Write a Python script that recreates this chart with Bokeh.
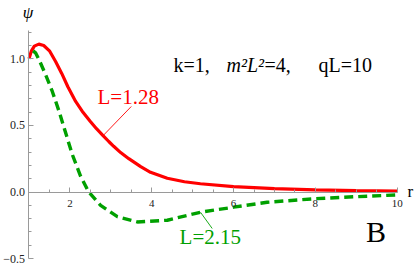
import numpy as np
from bokeh.plotting import figure
from bokeh.models import Range1d, FixedTicker, Label
from bokeh.embed import file_html
from bokeh.resources import INLINE

# curve L=1.28 (solid red)
r_red = [1.0, 1.06, 1.13, 1.24, 1.36, 1.5, 1.65, 1.8, 1.95, 2.14, 2.3, 2.5, 2.65, 2.81,
         2.95, 3.07, 3.24, 3.44, 3.73, 3.97, 4.38, 4.8, 5.19, 6.0, 7.0, 8.0, 9.0, 10.0]
psi_red = [1.0, 1.06, 1.095, 1.11, 1.10, 1.06, 0.98, 0.89, 0.79, 0.68, 0.607, 0.53, 0.475, 0.424,
           0.379, 0.343, 0.296, 0.25, 0.19, 0.148, 0.103, 0.077, 0.062, 0.04, 0.025, 0.016, 0.01, 0.006]
# curve L=2.15 (dashed green)
r_green = [1.1, 1.16, 1.25, 1.4, 1.57, 1.73, 1.89, 2.06, 2.26, 2.46, 2.75, 3.16, 3.65,
           4.38, 5.19, 6.0, 6.82, 7.96, 9.0, 10.0]
psi_green = [1.06, 1.045, 0.99, 0.885, 0.755, 0.61, 0.45, 0.28, 0.12, 0.0, -0.1, -0.185, -0.225,
             -0.212, -0.152, -0.114, -0.077, -0.051, -0.035, -0.022]

x_major = [2, 4, 6, 8, 10]
x_minor = [1.5, 2.5, 3, 3.5, 4.5, 5, 5.5, 6.5, 7, 7.5, 8.5, 9, 9.5]
y_major = [-0.5, 0.0, 0.5, 1.0]
y_minor = [-0.4, -0.3, -0.2, -0.1, 0.1, 0.2, 0.3, 0.4, 0.6, 0.7, 0.8, 0.9, 1.1, 1.2]
y_labels = {-0.5: "\u22120.5", 0.0: "0.0", 0.5: "0.5", 1.0: "1.0"}

# callout labels: text, anchor on curve, label end of leader
red_label = "L=1.28"
red_leader_x = [2.814, 3.50]
red_leader_y = [0.424, 0.642]
green_label = "L=2.15"
green_leader_x = [5.192, 5.478]
green_leader_y = [-0.152, -0.274]

RED = "#ff0000"
GREEN = "#00a000"
AX = "#9a9a9a"
SERIF = "Liberation Serif"

p = figure(width=415, height=266, output_backend="svg", toolbar_location=None,
           x_range=Range1d(0.3034, 10.4475), y_range=Range1d(-0.5593, 1.4377))
p.min_border_left = 0
p.min_border_right = 0
p.min_border_top = 0
p.min_border_bottom = 0
p.outline_line_color = None
p.grid.visible = False
p.background_fill_color = "white"

p.line(r_red, psi_red, line_color=RED, line_width=3.2)
p.line(r_green, psi_green, line_color=GREEN, line_width=3.4, line_dash="9 5")
p.line(red_leader_x, red_leader_y, line_color=RED, line_width=0.9)
p.line(green_leader_x, green_leader_y, line_color=GREEN, line_width=0.9)

xa = p.xaxis[0]
xa.fixed_location = 0
xa.bounds = (1, 10)
xa.ticker = FixedTicker(ticks=x_major, minor_ticks=x_minor)
ya = p.yaxis[0]
ya.fixed_location = 1
ya.bounds = (-0.5, 1.21)
ya.ticker = FixedTicker(ticks=y_major, minor_ticks=y_minor)
ya.major_label_overrides = y_labels

for ax in (xa, ya):
    ax.axis_line_color = AX
    ax.axis_line_width = 1
    ax.major_tick_line_color = AX
    ax.minor_tick_line_color = AX
    ax.major_tick_in = 5
    ax.major_tick_out = 0
    ax.minor_tick_in = 3
    ax.minor_tick_out = 0
    ax.major_label_text_font = SERIF
    ax.major_label_text_color = "#222222"
xa.major_label_text_font_size = "11px"
xa.major_label_standoff = 8
ya.major_label_text_font_size = "12px"
ya.major_label_standoff = 4

def lab(x, y, t, size, color="black", style="normal", align="left"):
    p.add_layout(Label(x=x, y=y, text=t, text_font=SERIF, text_font_size=size,
                       text_color=color, text_font_style=style, text_align=align,
                       text_baseline="middle"))

lab(2.675, 0.713, red_label, "21px", RED)
lab(4.68, -0.338, green_label, "21px", GREEN)
lab(9.24, -0.296, "B", "30px")
lab(0.9756, 1.344, "\u03c8", "17px", style="italic", align="center")
lab(10.252, 0.004, "r", "17px")
lab(4.533, 0.957, "k=1,", "20px")
lab(5.829, 0.957, "m\u00b2L\u00b2", "20px", style="italic")
lab(6.758, 0.957, "=4,", "20px")
lab(8.078, 0.957, "qL=10", "20px")

open("out.html", "w").write(file_html(p, INLINE))
